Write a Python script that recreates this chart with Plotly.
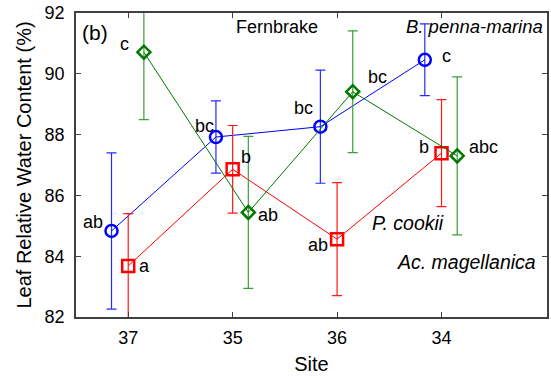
import plotly.graph_objects as go

# Sites along the x axis, in plotted order
sites = ["37", "35", "36", "34"]

# Leaf relative water content (%), mean and error per site
bpenna_mean = [84.83, 87.92, 88.26, 90.46]
bpenna_err = [2.57, 1.19, 1.86, 1.18]
bpenna_letters = ["ab", "bc", "bc", "c"]

pcookii_mean = [83.68, 86.86, 84.56, 87.39]
pcookii_err = [1.72, 1.44, 1.86, 1.76]
pcookii_letters = ["a", "b", "ab", "b"]

acmag_mean = [90.71, 85.44, 89.41, 87.30]
acmag_err = [2.22, 2.50, 2.00, 2.60]
acmag_letters = ["c", "ab", "bc", "abc"]

FONT = "Liberation Sans, Arial, sans-serif"
pos = [i + 1 for i in range(len(sites))]

fig = go.Figure()

series = [
    # (means, errors, letters, x offset, colour, error colour, symbol, size, letter shifts)
    (bpenna_mean, bpenna_err, bpenna_letters, -0.16, "#0000ff", "#2a2aff", "circle-open", 12,
     [(-7, 9, "right"), (0, 11, "right"), (-5, 19, "right"), (15, 4, "left")]),
    (pcookii_mean, pcookii_err, pcookii_letters, 0.0, "#ff0000", "#ff1a1a", "square-open", 12,
     [(9, 0, "left"), (6, 12, "left"), (-7, -6, "right"), (-11, 6, "right")]),
    (acmag_mean, acmag_err, acmag_letters, 0.15, "#007800", "#3aa03a", "diamond-open", 10,
     [(-13, 8, "right"), (8, -3, "left"), (13, 15, "left"), (10, 9, "left")]),
]

for means, errs, letters, off, col, ecol, sym, size, shifts in series:
    xs = [p + off for p in pos]
    fig.add_trace(go.Scatter(
        x=xs, y=means, mode="lines+markers",
        line=dict(color=col, width=1),
        marker=dict(symbol=sym, size=size, color=col, line=dict(width=2.5, color=col)),
        error_y=dict(type="data", array=errs, visible=True, color=ecol, thickness=1.2, width=5),
        showlegend=False, cliponaxis=True,
    ))
    for x, y, t, (dx, dy, anc) in zip(xs, means, letters, shifts):
        fig.add_annotation(x=x, y=y, xref="x", yref="y", text=t, showarrow=False,
                           xanchor=anc, yanchor="middle", xshift=dx, yshift=dy,
                           font=dict(family=FONT, size=18, color="black"))

# Panel label and species / site labels
labels = [
    ("(b)", 0.008, 0.937, "left", 21),
    ("Fernbrake", 0.427, 0.955, "center", 18),
    ("<i>B. penna-marina</i>", 0.995, 0.955, "right", 18.5),
    ("<i>P. cookii</i>", 0.785, 0.31, "right", 19.5),
    ("<i>Ac. magellanica</i>", 0.98, 0.18, "right", 19.5),
]
for t, x, y, anc, fs in labels:
    fig.add_annotation(x=x, y=y, xref="paper", yref="paper", text=t, showarrow=False,
                       xanchor=anc, yanchor="middle",
                       font=dict(family=FONT, size=fs, color="black"))

axis_common = dict(showline=True, linecolor="#404040", linewidth=1.5, mirror="ticks",
                   ticks="inside", ticklen=5, tickcolor="#404040", showgrid=False,
                   zeroline=False, tickfont=dict(family=FONT, size=18, color="black"))

fig.update_xaxes(range=[0.5, 5.01], tickvals=pos, ticktext=sites, ticklabelstandoff=4,
                 title=dict(text="Site", font=dict(family=FONT, size=20, color="black"), standoff=10),
                 **axis_common)
fig.update_yaxes(range=[82, 92], dtick=2, ticklabelstandoff=6,
                 title=dict(text="Leaf Relative Water Content (%)",
                            font=dict(family=FONT, size=20, color="black"), standoff=8),
                 **axis_common)

fig.update_layout(
    width=551, height=378,
    margin=dict(l=76, r=2, t=13, b=61),
    paper_bgcolor="white", plot_bgcolor="white",
)

fig.write_html("out.html")
